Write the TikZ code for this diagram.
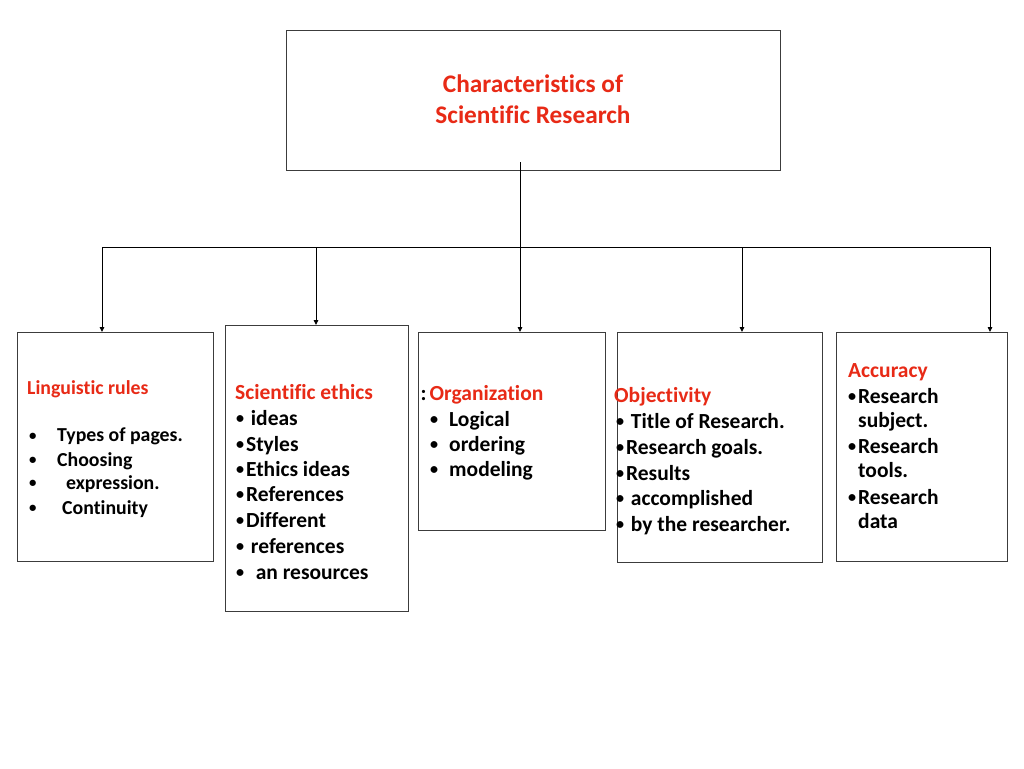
\documentclass[tikz,border=0pt]{standalone}
\usepackage{fontspec}
\setmainfont{Carlito}[Ligatures={NoCommon}]
\usetikzlibrary{arrows.meta}
\definecolor{hred}{RGB}{232,42,22}
\definecolor{boxc}{RGB}{60,60,60}
\newcommand{\bul}{\makebox[0.46em][l]{\raisebox{0.08em}{\scalebox{0.75}{•}}}}
\tikzset{
  box/.style={draw=boxc, line width=0.9pt, inner sep=0pt},
  conn/.style={draw=black, line width=0.9pt},
  arr/.style={conn, -{Triangle[length=5pt,width=4.5pt]}},
  txt/.style={inner sep=0pt, anchor=base west, font=\bfseries\fontsize{21.5}{25}\selectfont},
  stxt/.style={txt, font=\bfseries\fontsize{19.8}{23}\selectfont},
  head/.style={txt, text=hred},
  shead/.style={stxt, text=hred},
  ttl/.style={inner sep=0pt, anchor=base, text=hred, font=\bfseries\fontsize{25.3}{29}\selectfont}
}
\begin{document}
\begin{tikzpicture}[x=1pt,y=-1pt]
\useasboundingbox[fill=white] (0,0) rectangle (1024,768);

% boxes
\node[box, anchor=north west, minimum width=494pt, minimum height=140pt] (top) at (286,30) {};
\node[box, anchor=north west, minimum width=196pt, minimum height=229pt] (b1) at (17,332) {};
\node[box, anchor=north west, minimum width=183pt, minimum height=286pt] (b2) at (225,325) {};
\node[box, anchor=north west, minimum width=187pt, minimum height=198pt] (b3) at (418,332) {};
\node[box, anchor=north west, minimum width=205pt, minimum height=230pt] (b4) at (617,332) {};
\node[box, anchor=north west, minimum width=171pt, minimum height=229pt] (b5) at (836,332) {};

% connectors
\coordinate (trunk) at (520,162);
\coordinate (jc) at (520,247);
\coordinate (j1) at (102,247);
\coordinate (j2) at (316,247);
\coordinate (j4) at (742,247);
\coordinate (j5) at (990,247);
\draw[conn] (trunk) -- (jc);
\draw[conn] (j1) -- (j5);
\draw[arr] (j1) -- (j1 |- b1.north);
\draw[arr] (j2) -- (j2 |- b2.north);
\draw[arr] (jc) -- (jc |- b3.north);
\draw[arr] (j4) -- (j4 |- b4.north);
\draw[arr] (j5) -- (j5 |- b5.north);

% title
\node[ttl] (ttl1) at (533,92.7) {Characteristics of};
\node[ttl] (ttl2) at (533,123.3) {Scientific Research};

% box 1
\node[shead] (h1) at (27,394) {Linguistic rules};
\node[stxt] (l11) at (29,441.7) {\rlap{\bul}\hspace{28pt}Types of pages.};
\node[stxt] (l12) at (29,466) {\rlap{\bul}\hspace{28pt}Choosing};
\node[stxt] (l13) at (29,489.5) {\rlap{\bul}\hspace{37pt}expression.};
\node[stxt] (l14) at (29,514) {\rlap{\bul}\hspace{33pt}Continuity};

% box 2
\node[head] (h2) at (235,399) {Scientific ethics};
\node[txt] (l21) at (236,425) {\bul\ ideas};
\node[txt] (l22) at (236,451) {\bul Styles};
\node[txt] (l23) at (236,476.5) {\bul Ethics ideas};
\node[txt] (l24) at (236,501.5) {\bul References};
\node[txt] (l25) at (236,527) {\bul Different};
\node[txt] (l26) at (236,553) {\bul\ references};
\node[txt] (l27) at (236,579) {\bul\ \ an resources};

% box 3
\node[txt] (h3) at (420.5,400.7) {:\hspace{3pt}\textcolor{hred}{Organization}};
\node[txt] (l31) at (430,426) {\makebox[19pt][l]{\bul}Logical};
\node[txt] (l32) at (430,451.7) {\makebox[19pt][l]{\bul}ordering};
\node[txt] (l33) at (430,476.7) {\makebox[19pt][l]{\bul}modeling};

% box 4
\node[head] (h4) at (614,402.7) {Objectivity};
\node[txt] (l41) at (616,428.7) {\bul\ Title of Research.};
\node[txt] (l42) at (616,454.7) {\bul Research goals.};
\node[txt] (l43) at (616,480) {\bul Results};
\node[txt] (l44) at (616,505) {\bul\ accomplished};
\node[txt] (l45) at (616,531) {\bul\ by the researcher.};

% box 5
\node[head] (h5) at (848,377.7) {Accuracy};
\node[txt] (l51) at (848,403.3) {\bul Research};
\node[txt] (l52) at (858,427) {subject.};
\node[txt] (l53) at (848,453.3) {\bul Research};
\node[txt] (l54) at (858,477.7) {tools.};
\node[txt] (l55) at (848,504) {\bul Research};
\node[txt] (l56) at (858,528) {data};
\end{tikzpicture}
\end{document}
